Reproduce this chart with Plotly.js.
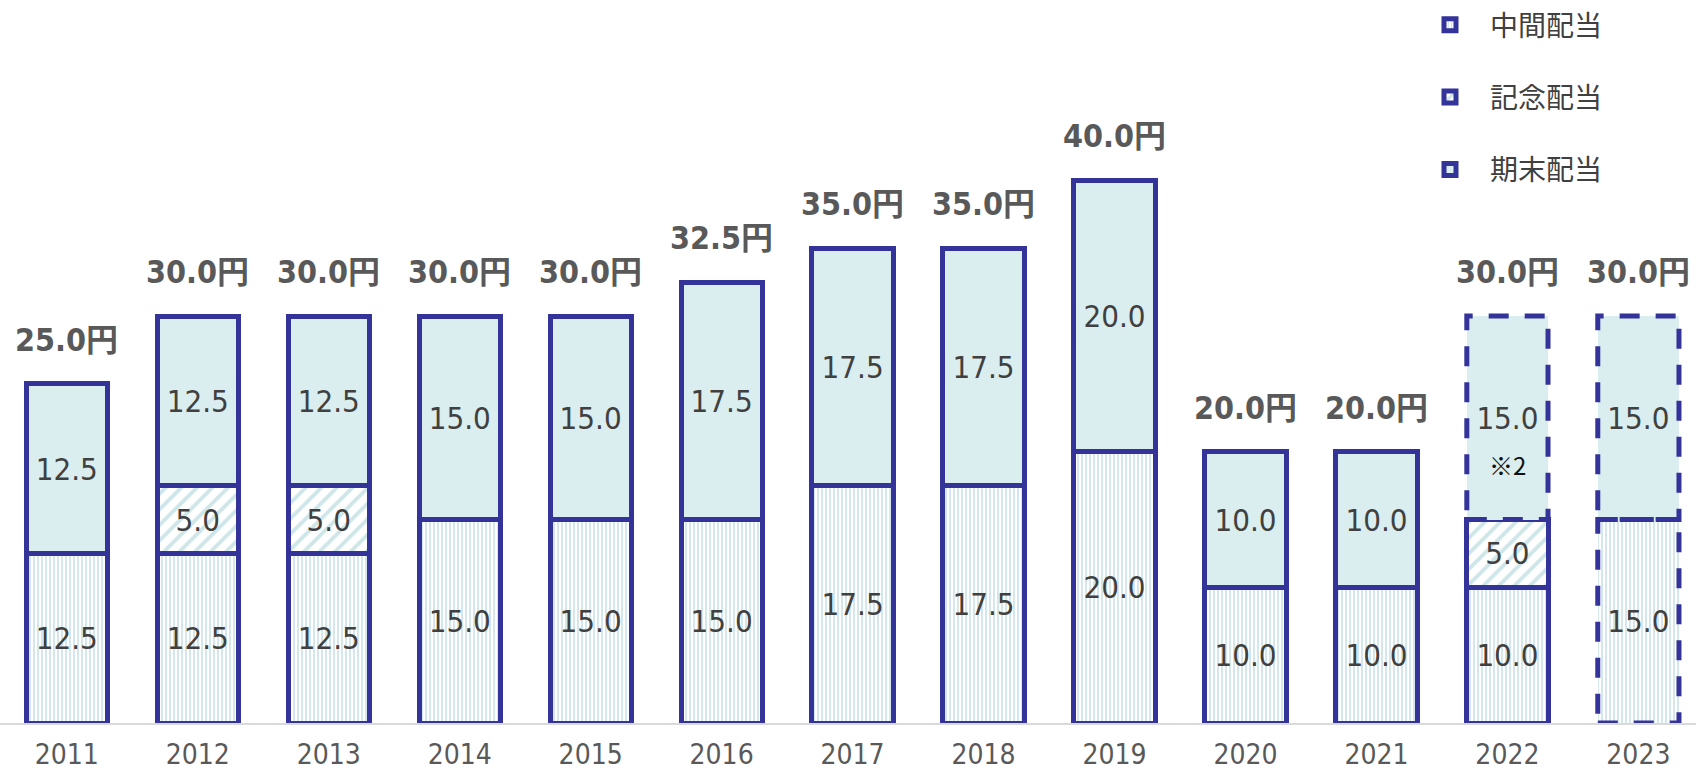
<!DOCTYPE html>
<html>
<head>
<meta charset="utf-8">
<script src="https://cdn.plot.ly/plotly-3.0.1.min.js"></script>
<style>
html,body{margin:0;padding:0;background:#fff;}
#chart{width:1696px;height:773px;}
</style>
</head>
<body>
<div id="chart"></div>
<script>
// ---- data ----
const years = ['2011','2012','2013','2014','2015','2016','2017','2018','2019','2020','2021','2022','2023'];
const interim = [12.5, 12.5, 12.5, 15.0, 15.0, 15.0, 17.5, 17.5, 20.0, 10.0, 10.0, 10.0, 15.0];
const commemorative = [null, 5.0, 5.0, null, null, null, null, null, null, null, null, 5.0, null];
const yearEnd = [12.5, 12.5, 12.5, 15.0, 15.0, 17.5, 17.5, 17.5, 20.0, 10.0, 10.0, 15.0, 15.0];
const totals = [25.0, 30.0, 30.0, 30.0, 30.0, 32.5, 35.0, 35.0, 40.0, 20.0, 20.0, 30.0, 30.0];
// forecast (drawn with a dashed outline)
const forecastInterim = [false,false,false,false,false,false,false,false,false,false,false,false,true];
const forecastYearEnd = [false,false,false,false,false,false,false,false,false,false,false,true,true];
const notes = ['','','','','','','','','','','','※2',''];
const seriesNames = ['中間配当','記念配当','期末配当'];

// ---- style ----
const NAVY = '#333399';
const FILL = '#daedef';
const STRIPE = '#cfe6e9';
const LW = 5;
const BARGAP = 0.38;
const BW = 1 - BARGAP;
const FONT = '"DejaVu Sans Condensed", "Noto Sans CJK JP", sans-serif';
const LFONT = '"Noto Sans CJK JP", "DejaVu Sans", sans-serif';

function lineWidths(flags){ return flags.map(f => f ? 0 : LW); }

const common = {
  type: 'bar',
  x: years,
  texttemplate: '%{y:.1f}',
  textposition: 'inside',
  insidetextanchor: 'middle',
  textangle: 0,
  constraintext: 'none',
  insidetextfont: {family: FONT, size: 31, color: '#404040'},
  hoverinfo: 'skip'
};

const traces = [
  Object.assign({}, common, {
    name: seriesNames[0], y: interim, legendgroup: 'a',
    marker: {color: FILL, line: {color: NAVY, width: lineWidths(forecastInterim)},
      pattern: {shape: '|', fillmode: 'replace', bgcolor: '#ffffff', fgcolor: STRIPE, size: 4, solidity: 0.45}}
  }),
  Object.assign({}, common, {
    name: seriesNames[1], y: commemorative, legendgroup: 'b',
    marker: {color: FILL, line: {color: NAVY, width: LW},
      pattern: {shape: '/', fillmode: 'replace', bgcolor: '#ffffff', fgcolor: STRIPE, size: 11, solidity: 0.35}}
  }),
  Object.assign({}, common, {
    name: seriesNames[2], y: yearEnd, legendgroup: 'c',
    marker: {color: FILL, line: {color: NAVY, width: lineWidths(forecastYearEnd)}}
  })
];

// dashed outlines for forecast segments
const shapes = [];
years.forEach((yr, i) => {
  if (forecastInterim[i]) {
    shapes.push({type:'rect', xref:'x', yref:'y', x0:i-BW/2, x1:i+BW/2, y0:0, y1:interim[i],
      line:{color:NAVY, width:LW, dash:'20px,16px'}, fillcolor:'rgba(0,0,0,0)'});
  }
  if (forecastYearEnd[i]) {
    const base = interim[i] + (commemorative[i] || 0);
    shapes.push({type:'rect', xref:'x', yref:'y', x0:i-BW/2, x1:i+BW/2, y0:base, y1:base+yearEnd[i],
      line:{color:NAVY, width:LW, dash:'20px,16px'}, fillcolor:'rgba(0,0,0,0)'});
  }
});

// total labels and notes
const annotations = [];
years.forEach((yr, i) => {
  annotations.push({x: i, y: totals[i], xref:'x', yref:'y',
    text: '<b>' + totals[i].toFixed(1) + '円</b>',
    showarrow:false, yanchor:'middle', yshift: 44,
    font:{family: FONT, size: 32, color:'#595959'}});
  if (notes[i]) {
    const base = interim[i] + (commemorative[i] || 0);
    annotations.push({x: i, y: base + yearEnd[i]/2, xref:'x', yref:'y', text: notes[i],
      showarrow:false, yanchor:'middle', yshift: -47,
      font:{family: LFONT, size: 24, color:'#111111'}});
  }
});

const layout = {
  width: 1696, height: 773,
  margin: {l: 0, r: 0, t: 0, b: 50, pad: 0},
  paper_bgcolor: '#ffffff', plot_bgcolor: '#ffffff',
  barmode: 'stack',
  bargap: BARGAP,
  showlegend: true,
  legend: {
    x: 1410/1696, y: 1, xanchor: 'left', yanchor: 'top',
    traceorder: 'grouped', tracegroupgap: 33,
    itemwidth: 70,
    font: {family: LFONT, size: 28, color: '#404040'},
    bgcolor: 'rgba(0,0,0,0)'
  },
  xaxis: {
    type: 'category', range: [-0.51, 12.44], fixedrange: true,
    showline: true, linecolor: '#d9d9d9', linewidth: 1.5,
    showgrid: false, zeroline: false, ticks: '',
    tickfont: {family: FONT, size: 28, color: '#595959'},
    ticklabelstandoff: 6
  },
  yaxis: {
    range: [0, 53.3], fixedrange: true,
    showticklabels: false, showline: false, ticks: '',
    showgrid: false, zeroline: false
  },
  shapes: shapes,
  annotations: annotations,
  hovermode: false
};

Plotly.newPlot('chart', traces, layout, {displayModeBar: false, staticPlot: true});
</script>
</body>
</html>
